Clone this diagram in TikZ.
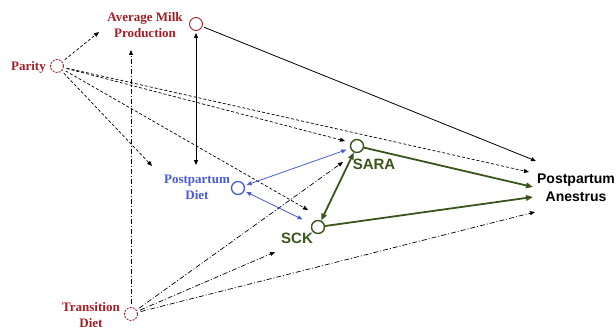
\documentclass[tikz,border=0pt]{standalone}
\usepackage{fontspec}
\setmainfont{Liberation Serif}
\setsansfont{Liberation Sans}
\usetikzlibrary{arrows.meta}
\definecolor{cred}{RGB}{160,32,38}
\definecolor{cblue}{RGB}{72,92,205}
\definecolor{cgreen}{RGB}{58,85,28}
\begin{document}
\begin{tikzpicture}[x=1pt,y=-1pt,
  circ/.style={circle,draw,minimum size=13pt,inner sep=0pt,line width=0.9pt},
  dcirc/.style={circ,dash pattern=on 2pt off 1.2pt},
  lab/.style={font=\bfseries\fontsize{13}{16}\selectfont,align=center,inner sep=0pt},
  slab/.style={font=\sffamily\bfseries\fontsize{15}{18}\selectfont,align=center,inner sep=0pt},
  palab/.style={font=\sffamily\bfseries\fontsize{14}{18}\selectfont,align=center,inner sep=0pt},
  tipend/.style={-{Triangle[length=5pt,width=4pt]}},
  bothend/.style={{Triangle[length=5pt,width=4pt]}-{Triangle[length=5pt,width=4pt]}},
  dsh/.style={tipend,dash pattern=on 3pt off 2pt,line width=0.7pt,shorten <=3pt},
  dshdot/.style={tipend,dash pattern=on 5pt off 2pt on 1pt off 2pt,line width=0.7pt,shorten <=3pt},
  solidarr/.style={line width=0.8pt},
  bluearr/.style={bothend,draw=cblue,line width=0.8pt},
  greenarr/.style={draw=cgreen,line width=1.8pt,-{Triangle[length=7pt,width=5.5pt]}},
]
\useasboundingbox (0,0) rectangle (616,329);

% circles and labels
\node[dcirc,draw=cred] (parity) at (57,66) {};
\node[lab,text=cred,anchor=east] (paritylab) at (46,67) {Parity};
\node[circ,draw=cred] (milk) at (196,24) {};
\node[lab,text=cred] (milklab) at (145,25) {Average Milk\\Production};
\node[circ,draw=cblue,line width=1.3pt] (pdiet) at (238,188) {};
\node[lab,text=cblue] (pdietlab) at (197,187) {Postpartum\\Diet};
\node[circ,draw=cgreen,line width=1.4pt] (sara) at (357,146) {};
\node[slab,text=cgreen] (saralab) at (374,164) {SARA};
\node[circ,draw=cgreen,line width=1.4pt] (sck) at (318,227) {};
\node[slab,text=cgreen] (scklab) at (297,238) {SCK};
\node[dcirc,draw=cred] (trans) at (131,314) {};
\node[lab,text=cred] (translab) at (91,315) {Transition\\Diet};
\node[palab] (pa) at (576,188) {Postpartum\\Anestrus};

% arrow end points
\coordinate (milkin) at (99,32);
\coordinate (paA) at (529,172);
\coordinate (saraA) at (345,141);
\coordinate (sckA) at (308,210);
\coordinate (pdietA) at (152,166);
\coordinate (paM) at (536,161);
\coordinate (pdtop) at (196,165);
\coordinate (milkbot) at (131,50);
\coordinate (saraT) at (343,162);
\coordinate (sckT) at (275,252);
\coordinate (paT) at (535,212);
\coordinate (paS) at (533,187);
\coordinate (paK) at (533,197);

% Parity
\draw[dsh] (parity) -- (milkin);
\draw[dsh] (parity) -- (paA);
\draw[dsh] (parity) -- (saraA);
\draw[dsh] (parity) -- (sckA);
\draw[dsh] (parity) -- (pdietA);

% Average milk
\draw[solidarr,tipend,shorten <=2pt] (milk) -- (paM);
\draw[solidarr,bothend,shorten <=2pt] (milk) -- (pdtop);

% Transition diet
\draw[dshdot] (trans) -- (milkbot);
\draw[dshdot] (trans) -- (saraT);
\draw[dshdot] (trans) -- (sckT);
\draw[dshdot] (trans) -- (paT);

% Postpartum diet
\draw[bluearr,shorten <=2pt,shorten >=4pt] (pdiet) -- (sara);
\draw[bluearr,shorten <=2pt,shorten >=10pt] (pdiet) -- (sck);

% SARA / SCK
\draw[greenarr,{Triangle[length=7pt,width=5.5pt]}-{Triangle[length=7pt,width=5.5pt]}] (sara) -- (sck);
\draw[greenarr] (sara) -- (paS);
\draw[greenarr] (sck) -- (paK);
\end{tikzpicture}
\end{document}
